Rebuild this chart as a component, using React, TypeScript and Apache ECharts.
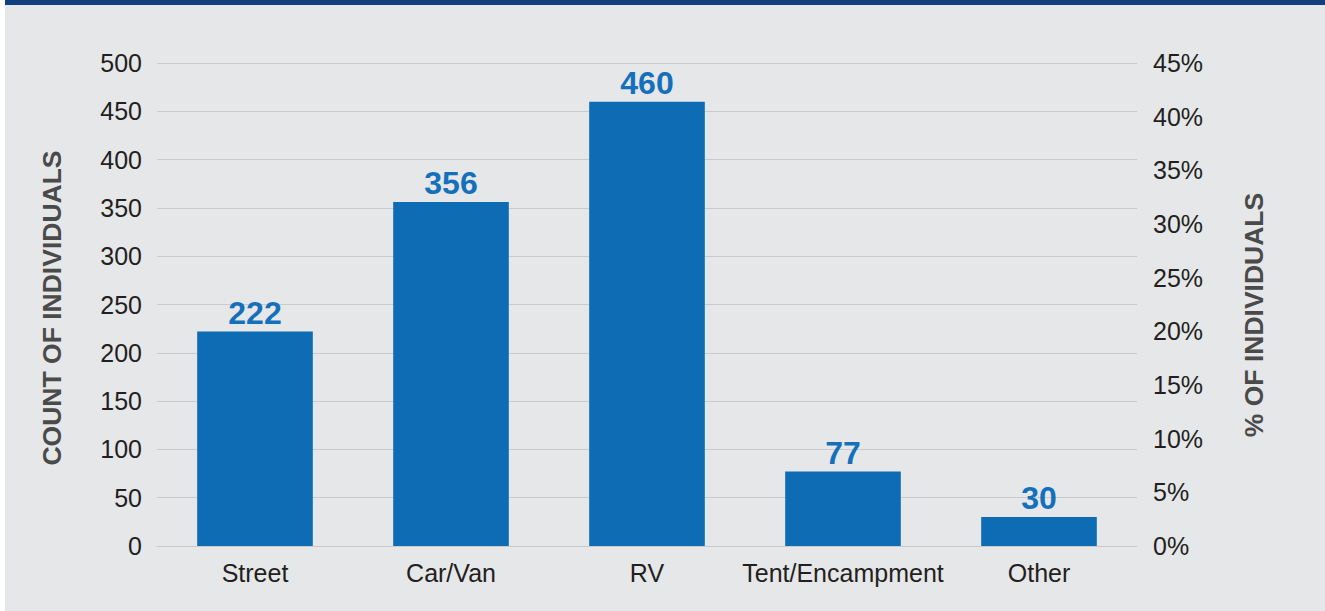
import React, { useEffect, useRef } from "react";
import * as echarts from "echarts";

const categories = ["Street", "Car/Van", "RV", "Tent/Encampment", "Other"];
const counts = [222, 356, 460, 77, 30];
const leftTitle = "COUNT OF INDIVIDUALS";
const rightTitle = "% OF INDIVIDUALS";

const BG = "#e6e7e9";
const BAR = "#0e6cb5";
const TXT = "#231f20";
const TITLE = "#4a4a4a";
const FONT2 = "'Liberation Sans', Arial, sans-serif";

export default function App() {
  const ref = useRef<HTMLDivElement>(null);
  useEffect(() => {
    if (!ref.current) return;
    const chart = echarts.init(ref.current, null, { renderer: "svg" });
    chart.setOption({
      animation: false,
      backgroundColor: BG,
      grid: { left: 152, right: 188, top: 63, bottom: 65, containLabel: false },
      graphic: [
        { type: "rect", left: 0, top: 0, shape: { width: 1320, height: 5 }, style: { fill: "#123f7f" }, z: 10 },
        {
          type: "text",
          x: 47,
          y: 308,
          rotation: Math.PI / 2,
          style: { text: leftTitle, font: `bold 26.5px ${FONT2}`, fill: TITLE, align: "center", verticalAlign: "middle" },
        },
        {
          type: "text",
          x: 1249,
          y: 315,
          rotation: Math.PI / 2,
          style: { text: rightTitle, font: `bold 26.5px ${FONT2}`, fill: TITLE, align: "center", verticalAlign: "middle" },
        },
      ],
      xAxis: {
        type: "category",
        data: categories,
        axisLine: { show: true, lineStyle: { color: "#c9cacc", width: 1 } },
        axisTick: { show: false },
        axisLabel: { color: TXT, fontSize: 25, fontFamily: FONT2, margin: 14, interval: 0 },
      },
      yAxis: [
        {
          type: "value",
          min: 0,
          max: 500,
          interval: 50,
          axisLine: { show: false },
          axisTick: { show: false },
          splitLine: { show: true, lineStyle: { color: "#c9cacc", width: 1 } },
          axisLabel: { color: TXT, fontSize: 25, fontFamily: FONT2, margin: 15 },
        },
        {
          type: "value",
          min: 0,
          max: 45,
          interval: 5,
          position: "right",
          axisLine: { show: false },
          axisTick: { show: false },
          splitLine: { show: false },
          axisLabel: { color: TXT, fontSize: 25, fontFamily: FONT2, margin: 16, formatter: "{value}%" },
        },
      ],
      series: [
        {
          type: "bar",
          data: counts,
          barWidth: "59%",
          itemStyle: { color: BAR },
          label: {
            show: true,
            position: "top",
            distance: 3,
            color: "#1570bb",
            fontSize: 32,
            fontWeight: "bold",
            fontFamily: FONT2,
          },
        },
      ],
    });
    return () => chart.dispose();
  }, []);
  return (
    <div style={{ position: "fixed", left: 0, top: 0, width: 1325, height: 611, background: "#fff" }}>
      <div ref={ref} style={{ position: "absolute", left: 5, top: 0, width: 1320, height: 611 }} />
    </div>
  );
}
